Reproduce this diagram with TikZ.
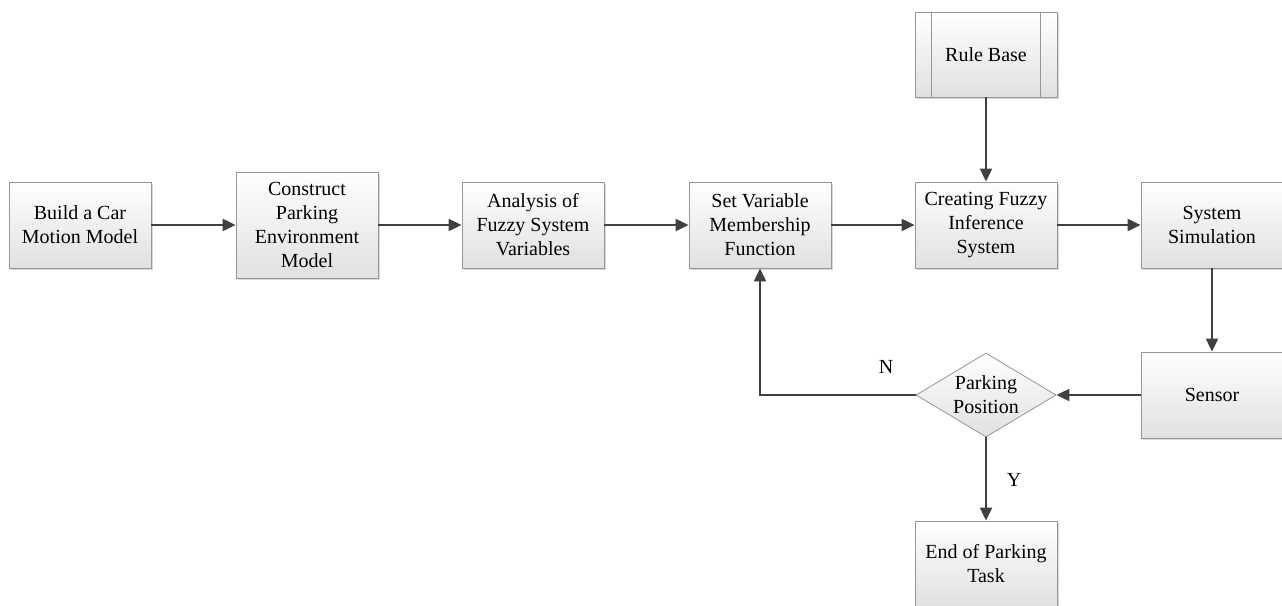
\documentclass[tikz,border=0pt]{standalone}
\usepackage{fontspec}
\setmainfont{Liberation Serif}
\usetikzlibrary{arrows.meta,shapes.geometric,shadows}
\definecolor{boxline}{RGB}{150,150,150}
\definecolor{arrowc}{RGB}{64,64,64}
\begin{document}
\begin{tikzpicture}[x=1pt,y=-1pt,
  box/.style={draw=boxline,line width=0.8pt,top color=white,bottom color=black!12,
    minimum width=142pt,minimum height=86pt,inner sep=2pt,align=center,
    font=\fontsize{20}{24}\selectfont,
    drop shadow={shadow xshift=2pt,shadow yshift=-2pt,opacity=0.15,fill=black}},
  dec/.style={diamond,draw=boxline,line width=0.8pt,top color=white,bottom color=black!12,
    minimum width=140pt,minimum height=84pt,inner sep=0pt,align=center,aspect=1.67,
    font=\fontsize{20}{24}\selectfont},
  arr/.style={draw=arrowc,line width=2pt,-{Triangle[length=13pt,width=12pt]}},
  lab/.style={font=\fontsize{20}{24}\selectfont}]
\useasboundingbox (0,0) rectangle (1282,605);
\node[box] (b1) at (80,225) {Build a Car\\Motion Model};
\node[box,minimum height=106pt] (b2) at (307,225) {Construct\\Parking\\Environment\\Model};
\node[box] (b3) at (533,225) {Analysis of\\Fuzzy System\\Variables};
\node[box] (b4) at (760,225) {Set Variable\\Membership\\Function};
\node[box] (b5) at (986,225) {Creating Fuzzy\\Inference\\System};
\node[box] (b6) at (1212,225) {System\\Simulation};
\node[box,minimum height=85pt] (rb) at (986,54.5) {Rule Base};
\draw[boxline,line width=0.8pt] ([xshift=17pt]rb.north west) -- ([xshift=17pt]rb.south west);
\draw[boxline,line width=0.8pt] ([xshift=-17pt]rb.north east) -- ([xshift=-17pt]rb.south east);
\node[box] (sn) at (1212,395) {Sensor};
\node[dec] (dp) at (986,395) {Parking\\Position};
\node[box] (en) at (986,564) {End of Parking\\Task};
\coordinate (c1) at (760,395);
\draw[arr] (b1) -- (b2);
\draw[arr] (b2) -- (b3);
\draw[arr] (b3) -- (b4);
\draw[arr] (b4) -- (b5);
\draw[arr] (b5) -- (b6);
\draw[arr] (rb) -- (b5);
\draw[arr] (b6) -- (sn);
\draw[arr] (sn) -- (dp);
\draw[arr] (dp.west) -- (c1) -- (b4);
\draw[arr] (dp) -- (en);
\node[lab] (nl) at (886,367) {N};
\node[lab] (yl) at (1014,480) {Y};
\end{tikzpicture}
\end{document}
